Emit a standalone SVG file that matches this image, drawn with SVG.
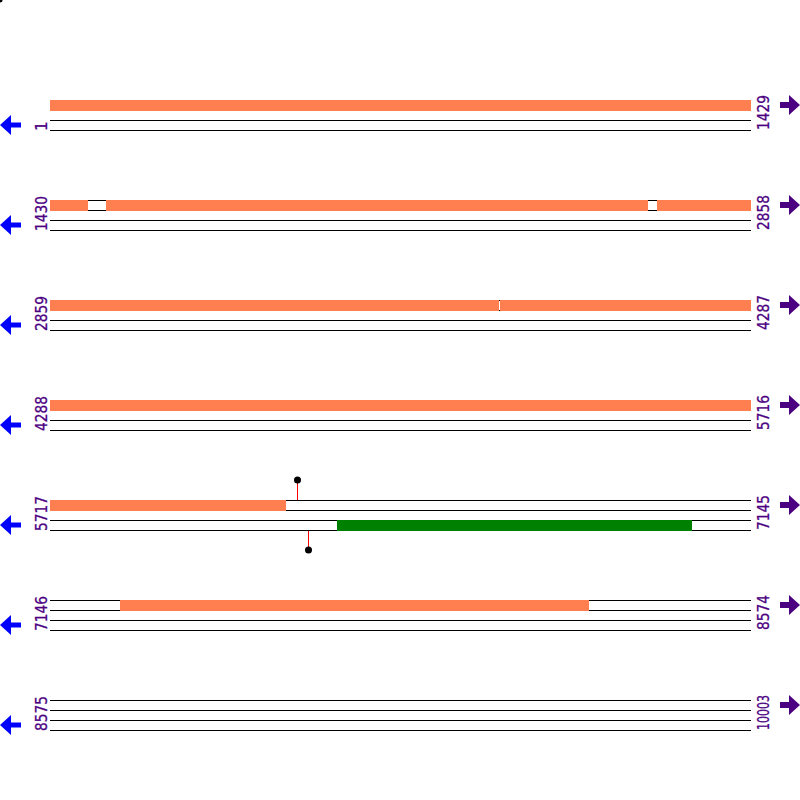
<svg xmlns="http://www.w3.org/2000/svg" width="800" height="800" viewBox="0 0 800 800">
<defs>
<style>
.ln{stroke:#000;stroke-width:1;fill:none}
.or{fill:#FF7F50}
.gr{fill:#008000}
.lbl{font-family:"DejaVu Sans",sans-serif;font-size:15px;fill:#4B0082;stroke:#4B0082;stroke-width:0.3}
.la{fill:#0000FF}
.ra{fill:#4B0082}
.stem{stroke:#FF0000;stroke-width:1}
</style>
<g id="la"><polygon class="la" points="0,25 11,15 11,22.5 21,22.5 21,27.5 11,27.5 11,35 0,25"/></g>
<g id="ra"><polygon class="ra" points="800,5 789,-5 789,2 780,2 780,8 789,8 789,15"/></g>
<g id="tracks"><path class="ln" d="M50,0.5H751M50,10.5H751M50,20.5H751M50,30.5H751"/></g>
</defs>
<rect width="800" height="800" fill="#fff"/>
<circle cx="0" cy="0" r="2.5" fill="#000"/>

<g id="row1" transform="translate(0,100)">
<use href="#tracks"/>
<rect class="or" x="50" y="0" width="701" height="11"/>
<text class="lbl" transform="translate(46.5,31) rotate(-90)">1</text>
<text class="lbl" transform="translate(769,30) rotate(-90)" textLength="35" lengthAdjust="spacingAndGlyphs">1429</text>
<use href="#la"/><use href="#ra"/>
</g>

<g id="row2" transform="translate(0,200)">
<use href="#tracks"/>
<rect class="or" x="50" y="0" width="38" height="11"/>
<rect class="or" x="106" y="0" width="542" height="11"/>
<rect class="or" x="657" y="0" width="94" height="11"/>
<text class="lbl" transform="translate(46.5,31) rotate(-90)" textLength="35" lengthAdjust="spacingAndGlyphs">1430</text>
<text class="lbl" transform="translate(769,30) rotate(-90)" textLength="35" lengthAdjust="spacingAndGlyphs">2858</text>
<use href="#la"/><use href="#ra"/>
</g>

<g id="row3" transform="translate(0,300)">
<use href="#tracks"/>
<rect class="or" x="50" y="0" width="449" height="11"/>
<rect class="or" x="500" y="0" width="251" height="11"/>
<text class="lbl" transform="translate(46.5,31) rotate(-90)" textLength="35" lengthAdjust="spacingAndGlyphs">2859</text>
<text class="lbl" transform="translate(769,30) rotate(-90)" textLength="35" lengthAdjust="spacingAndGlyphs">4287</text>
<use href="#la"/><use href="#ra"/>
</g>

<g id="row4" transform="translate(0,400)">
<use href="#tracks"/>
<rect class="or" x="50" y="0" width="701" height="11"/>
<text class="lbl" transform="translate(46.5,31) rotate(-90)" textLength="35" lengthAdjust="spacingAndGlyphs">4288</text>
<text class="lbl" transform="translate(769,30) rotate(-90)" textLength="35" lengthAdjust="spacingAndGlyphs">5716</text>
<use href="#la"/><use href="#ra"/>
</g>

<g id="row5" transform="translate(0,500)">
<use href="#tracks"/>
<rect class="or" x="50" y="0" width="236" height="11"/>
<rect class="gr" x="337" y="20" width="355" height="11"/>
<line class="stem" x1="297.5" y1="-20" x2="297.5" y2="0"/>
<circle cx="297.5" cy="-20" r="3.5" fill="#000"/>
<line class="stem" x1="308.5" y1="31" x2="308.5" y2="50"/>
<circle cx="308.5" cy="50" r="3.5" fill="#000"/>
<text class="lbl" transform="translate(46.5,31) rotate(-90)" textLength="35" lengthAdjust="spacingAndGlyphs">5717</text>
<text class="lbl" transform="translate(769,30) rotate(-90)" textLength="35" lengthAdjust="spacingAndGlyphs">7145</text>
<use href="#la"/><use href="#ra"/>
</g>

<g id="row6" transform="translate(0,600)">
<use href="#tracks"/>
<rect class="or" x="120" y="0" width="469" height="11"/>
<text class="lbl" transform="translate(46.5,31) rotate(-90)" textLength="35" lengthAdjust="spacingAndGlyphs">7146</text>
<text class="lbl" transform="translate(769,30) rotate(-90)" textLength="35" lengthAdjust="spacingAndGlyphs">8574</text>
<use href="#la"/><use href="#ra"/>
</g>

<g id="row7" transform="translate(0,700)">
<use href="#tracks"/>
<text class="lbl" transform="translate(46.5,31) rotate(-90)" textLength="35" lengthAdjust="spacingAndGlyphs">8575</text>
<text class="lbl" transform="translate(769,30) rotate(-90)" textLength="35" lengthAdjust="spacingAndGlyphs">10003</text>
<use href="#la"/><use href="#ra"/>
</g>
</svg>
